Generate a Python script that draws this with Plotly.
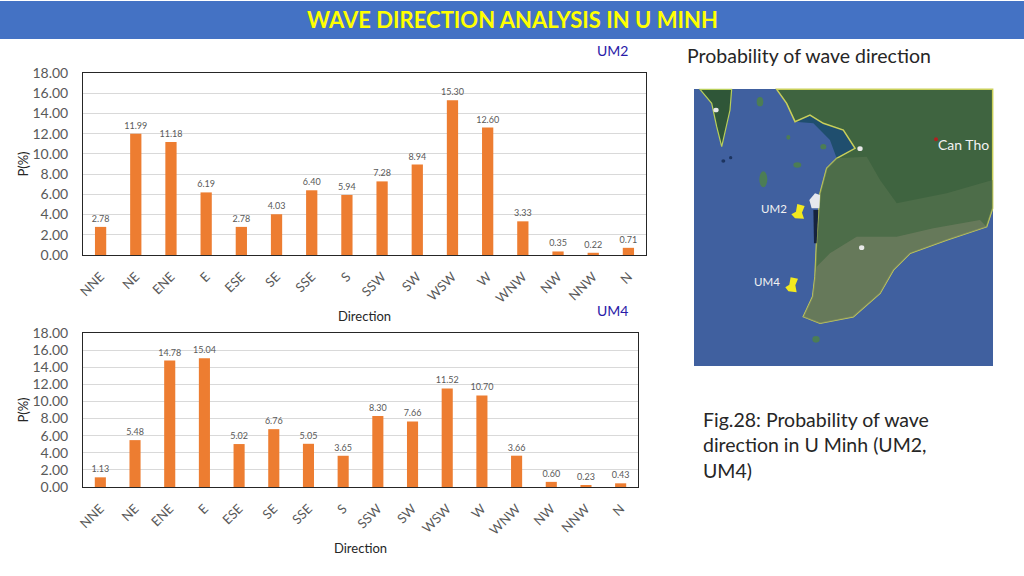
import plotly.graph_objects as go

directions = ["NNE","NE","ENE","E","ESE","SE","SSE","S","SSW","SW","WSW","W","WNW","NW","NNW","N"]
um2_values = [2.78,11.99,11.18,6.19,2.78,4.03,6.40,5.94,7.28,8.94,15.30,12.60,3.33,0.35,0.22,0.71]
um4_values = [1.13,5.48,14.78,15.04,5.02,6.76,5.05,3.65,8.30,7.66,11.52,10.70,3.66,0.60,0.23,0.43]
y_ticks = [0,2,4,6,8,10,12,14,16,18]

W, H = 1024, 576
FONT = "Lato"
BAR = "#ED7D31"
GRAY = "#595959"

def px(x): return x / W
def py(y): return 1 - y / H

fig = go.Figure()
for vals, xa, ya in [(um2_values, "x", "y"), (um4_values, "x2", "y2")]:
    fig.add_trace(go.Bar(
        x=directions, y=vals, xaxis=xa, yaxis=ya, width=0.32,
        marker=dict(color=BAR, line=dict(width=0)),
        text=[f"{v:.2f}" for v in vals], textposition="outside", constraintext="none",
        textfont=dict(family=FONT, size=9, color=GRAY),
        cliponaxis=False, showlegend=False))

def xaxis(left, right, anchor):
    return dict(domain=[px(left), px(right)], anchor=anchor, type="category",
                categoryorder="array", categoryarray=directions, automargin=False,
                tickangle=-45, ticks="", ticklabelstandoff=8,
                tickfont=dict(family=FONT, size=13, color=GRAY),
                showgrid=False, showline=True, linecolor="#262626", linewidth=1, mirror=True,
                title=dict(text="Direction", font=dict(family=FONT, size=13, color="#262626"), standoff=7))

def yaxis(top, bottom, anchor):
    return dict(domain=[py(bottom), py(top)], anchor=anchor, range=[0, 18], automargin=False,
                tickvals=y_ticks, ticktext=[f"{v:.2f}" for v in y_ticks],
                ticks="", ticklabelstandoff=11,
                tickfont=dict(family=FONT, size=14, color=GRAY),
                showgrid=True, gridcolor="#D9D9D9", gridwidth=1, zeroline=False,
                showline=True, linecolor="#262626", linewidth=1, mirror=True,
                title=dict(text="P(%)", font=dict(family=FONT, size=13, color="#262626"), standoff=0))

def mp(points):
    out = []
    for i, (x, y) in enumerate(points):
        out.append(f"{'M' if i == 0 else 'L'}{px(680 + x / 3):.4f},{py(80 + y / 3):.4f}")
    return " ".join(out) + " Z"

LAND = [(290,28),(320,70),(345,125),(390,105),(430,130),(490,150),(525,205),(470,235),(440,265),(420,340),
        (410,480),(405,590),(398,650),(370,710),(420,730),(520,710),(600,640),(640,570),(690,520),(800,480),
        (920,440),(938,385),(938,28)]
LAND_MID = [(470,235),(440,265),(420,340),(410,480),(405,590),(398,650),(370,710),(420,730),(520,710),(600,640),
            (640,570),(690,520),(800,480),(920,440),(938,385),(938,300),(800,340),(650,370),(600,300),(560,230)]
LAND_LOW = [(410,560),(405,590),(398,650),(370,710),(420,730),(520,710),(600,640),(640,570),(690,520),(800,480),
            (920,440),(900,420),(760,445),(650,470),(530,470),(450,520)]
ISLAND = [(60,28),(155,28),(150,90),(125,200),(110,140),(95,70)]
SHALLOW = [(345,125),(390,105),(430,130),(490,150),(525,205),(470,235),(450,180),(400,130)]
SHADOW = [(400,390),(415,390),(410,490),(402,490)]
CLOUD = [(388,360),(405,340),(420,345),(418,385),(395,385)]
PIN2 = [(352,372),(374,378),(366,398),(372,416),(345,415),(334,403),(348,395)]
PIN4 = [(332,592),(354,596),(346,616),(350,637),(325,634),(316,622),(328,614)]
ISLETS = [(250,298,12,24),(352,255,12,8),(430,200,9,8),(408,778,11,10),(325,172,6,7),(240,65,10,14),(130,243,6,5),(152,233,5,5)]
PLANES = [(540,206),(545,503),(108,90)]

def poly(points, fill, line=None, lw=1.5, opacity=1.0):
    return dict(type="path", xref="paper", yref="paper", path=mp(points), fillcolor=fill, opacity=opacity,
                line=dict(color=line or "rgba(0,0,0,0)", width=lw if line else 0), layer="above")

def ell(x, y, rx, ry, fill, line=None):
    return dict(type="circle", xref="paper", yref="paper",
                x0=px(680+(x-rx)/3), x1=px(680+(x+rx)/3), y0=py(80+(y+ry)/3), y1=py(80+(y-ry)/3),
                fillcolor=fill, line=dict(color=line or "rgba(0,0,0,0)", width=1 if line else 0), layer="above")

shapes = [
    dict(type="rect", xref="paper", yref="paper", x0=0, x1=1, y0=py(39), y1=py(1), fillcolor="#4472C4",
         line=dict(width=0), layer="below"),
    dict(type="rect", xref="paper", yref="paper", x0=px(694), x1=px(993), y0=py(366), y1=py(89), fillcolor="#40609F",
         line=dict(width=0), layer="above"),
    poly(SHALLOW, "#1F4E6E"),
    poly(LAND, "#3F6440", "#C9CF5A", 1.5),
    poly(LAND_MID, "#5A7550", opacity=0.55),
    poly(LAND_LOW, "#7C8468", opacity=0.55),
    poly(ISLAND, "#2F5638", "#B9CF5A", 1.2),
    poly(SHADOW, "#16233D"),
    poly(CLOUD, "#E6E8EE"),
    poly(PIN2, "#F2E91E"),
    poly(PIN4, "#F2E91E"),
    ell(768, 178, 6, 6, "#B02020"),
]
for x, y, rx, ry in ISLETS:
    shapes.append(ell(x, y, rx, ry, "#4C7D55" if ry > 5 else "#1D3560"))
for x, y in PLANES:
    shapes.append(ell(x, y, 8, 7, "#E8E8E8"))

def note(text, x, y, size, color="#262626", anchor="left", bold=False):
    return dict(text=f"<b>{text}</b>" if bold else text, xref="paper", yref="paper", x=px(x), y=py(y),
                xanchor=anchor, yanchor="middle", align="left", showarrow=False,
                font=dict(family=FONT, size=size, color=color))

annotations = [
    note("WAVE DIRECTION ANALYSIS IN U MINH", 512, 20, 22, "#FFFF00", "center", True),
    note("UM2", 612, 50, 14, "#2A1AA8", "center"),
    note("UM4", 612, 310, 14, "#2A1AA8", "center"),
    note("Probability of wave direction", 685, 56, 19.5),
    note("Fig.28: Probability of wave<br>direction in U Minh (UM2,<br>UM4)", 701, 445, 19.5),
    note("Can Tho", 963, 144, 14, "#F2F2F2", "center"),
    note("UM2", 774, 208, 11.5, "#F2F2F2", "center"),
    note("UM4", 767, 281, 11.5, "#F2F2F2", "center"),
]

fig.update_layout(
    width=W, height=H, margin=dict(l=0, r=0, t=0, b=0, pad=0, autoexpand=False), autosize=False,
    paper_bgcolor="white", plot_bgcolor="white", showlegend=False,
    xaxis=xaxis(83, 646, "y"), yaxis=yaxis(73, 255, "x"),
    xaxis2=xaxis(83, 638, "y2"), yaxis2=yaxis(333, 487, "x2"),
    shapes=shapes, annotations=annotations,
    font=dict(family=FONT),
)
fig.write_html("out.html", config=dict(displayModeBar=False),
               post_script="document.body.style.margin='0';")
